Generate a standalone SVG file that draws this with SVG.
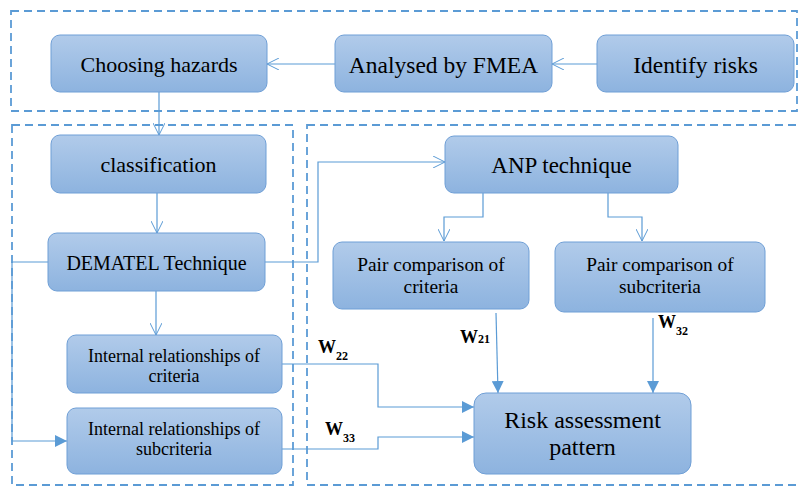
<svg xmlns="http://www.w3.org/2000/svg" width="798" height="487" viewBox="0 0 798 487">
<defs>
<linearGradient id="g" x1="0" y1="0" x2="0" y2="1">
<stop offset="0" stop-color="#b1cbea"/>
<stop offset="1" stop-color="#8db3df"/>
</linearGradient>
<marker id="open" viewBox="0 0 12 12" refX="12" refY="6" markerWidth="12" markerHeight="12" markerUnits="userSpaceOnUse" orient="auto">
<path d="M0,0 L12,6 L0,12" fill="none" stroke="#5b9bd5" stroke-width="1"/>
</marker>
<marker id="fill" viewBox="0 0 12 12" refX="12" refY="6" markerWidth="12" markerHeight="12" markerUnits="userSpaceOnUse" orient="auto">
<path d="M0,0 L12,6 L0,12 Z" fill="#5b9bd5"/>
</marker>
</defs>
<rect width="798" height="487" fill="#fff"/>
<g id="frames" fill="none" stroke="#5b9bd5" stroke-width="1.8" stroke-dasharray="8 5">
<rect x="11" y="11" width="786" height="100"/>
<rect x="12" y="125" width="281" height="360"/>
<rect x="307" y="125" width="500" height="360"/>
</g>
<g id="connectors" fill="none" stroke="#5b9bd5" stroke-width="1.2">
<path d="M597,64 H552" marker-end="url(#open)"/>
<path d="M335,64 H267" marker-end="url(#open)"/>
<path d="M159,92 V135" marker-end="url(#open)"/>
<path d="M157,193 V233" marker-end="url(#open)"/>
<path d="M156,291 V335" marker-end="url(#open)"/>
<path d="M48,262 H12 V441 H67" marker-end="url(#fill)"/>
<path d="M265,262 H318 V162 H445" marker-end="url(#open)"/>
<path d="M483,193 V217 H444 V241" marker-end="url(#open)"/>
<path d="M608,193 V217 H642 V241" marker-end="url(#open)"/>
<path d="M496,313 L498,393" marker-end="url(#fill)"/>
<path d="M653,318 V393" marker-end="url(#fill)"/>
<path d="M282,364 H378 V407 H474" marker-end="url(#fill)"/>
<path d="M282,449 H378 V437 H474" marker-end="url(#fill)"/>
</g>
<g id="labels" fill="#000" font-weight="bold" font-size="18">
<text style="font-family:'Liberation Serif',serif" x="318" y="353">W<tspan font-size="12" dy="7">22</tspan></text>
<text style="font-family:'Liberation Serif',serif" x="325" y="435">W<tspan font-size="12" dy="7">33</tspan></text>
<text style="font-family:'Liberation Serif',serif" x="460" y="343">W<tspan font-size="12">21</tspan></text>
<text style="font-family:'Liberation Serif',serif" x="658" y="328">W<tspan font-size="12" dy="7">32</tspan></text>
</g>
<g id="nodes" fill="#000" text-anchor="middle">
<g id="n-choosing"><rect x="51" y="35" width="216" height="57" rx="9" fill="url(#g)" stroke="#6f9fd6"/><text style="font-family:'Liberation Serif',serif" x="159" y="72" font-size="22">Choosing hazards</text></g>
<g id="n-fmea"><rect x="335" y="35" width="217" height="57" rx="9" fill="url(#g)" stroke="#6f9fd6"/><text style="font-family:'Liberation Serif',serif" x="443.5" y="73" font-size="23.5">Analysed by FMEA</text></g>
<g id="n-identify"><rect x="597" y="35" width="197" height="57" rx="9" fill="url(#g)" stroke="#6f9fd6"/><text style="font-family:'Liberation Serif',serif" x="695.5" y="73" font-size="23.5">Identify risks</text></g>
<g id="n-class"><rect x="51" y="135" width="215" height="58" rx="9" fill="url(#g)" stroke="#6f9fd6"/><text style="font-family:'Liberation Serif',serif" x="158.5" y="172" font-size="22">classification</text></g>
<g id="n-dematel"><rect x="48" y="233" width="217" height="58" rx="9" fill="url(#g)" stroke="#6f9fd6"/><text style="font-family:'Liberation Serif',serif" x="156.5" y="270" font-size="20">DEMATEL Technique</text></g>
<g id="n-intcrit"><rect x="67" y="335" width="215" height="58" rx="9" fill="url(#g)" stroke="#6f9fd6"/><text style="font-family:'Liberation Serif',serif" x="174" y="362" font-size="18">Internal relationships of</text><text style="font-family:'Liberation Serif',serif" x="174" y="382" font-size="18">criteria</text></g>
<g id="n-intsub"><rect x="67" y="408" width="215" height="66" rx="9" fill="url(#g)" stroke="#6f9fd6"/><text style="font-family:'Liberation Serif',serif" x="174" y="435" font-size="18">Internal relationships of</text><text style="font-family:'Liberation Serif',serif" x="174" y="455" font-size="18">subcriteria</text></g>
<g id="n-anp"><rect x="445" y="136" width="233" height="57" rx="9" fill="url(#g)" stroke="#6f9fd6"/><text style="font-family:'Liberation Serif',serif" x="561.5" y="173" font-size="23">ANP technique</text></g>
<g id="n-paircrit"><rect x="333" y="242" width="196" height="67" rx="9" fill="url(#g)" stroke="#6f9fd6"/><text style="font-family:'Liberation Serif',serif" x="431" y="271" font-size="19.4">Pair comparison of</text><text style="font-family:'Liberation Serif',serif" x="431" y="293" font-size="19.4">criteria</text></g>
<g id="n-pairsub"><rect x="555" y="242" width="210" height="70" rx="9" fill="url(#g)" stroke="#6f9fd6"/><text style="font-family:'Liberation Serif',serif" x="660" y="271" font-size="19.4">Pair comparison of</text><text style="font-family:'Liberation Serif',serif" x="660" y="293" font-size="19.4">subcriteria</text></g>
<g id="n-risk"><rect x="474" y="393" width="217" height="81" rx="12" fill="url(#g)" stroke="#6f9fd6"/><text style="font-family:'Liberation Serif',serif" x="582.5" y="428" font-size="24">Risk assessment</text><text style="font-family:'Liberation Serif',serif" x="582.5" y="455" font-size="24">pattern</text></g>
</g>
</svg>
